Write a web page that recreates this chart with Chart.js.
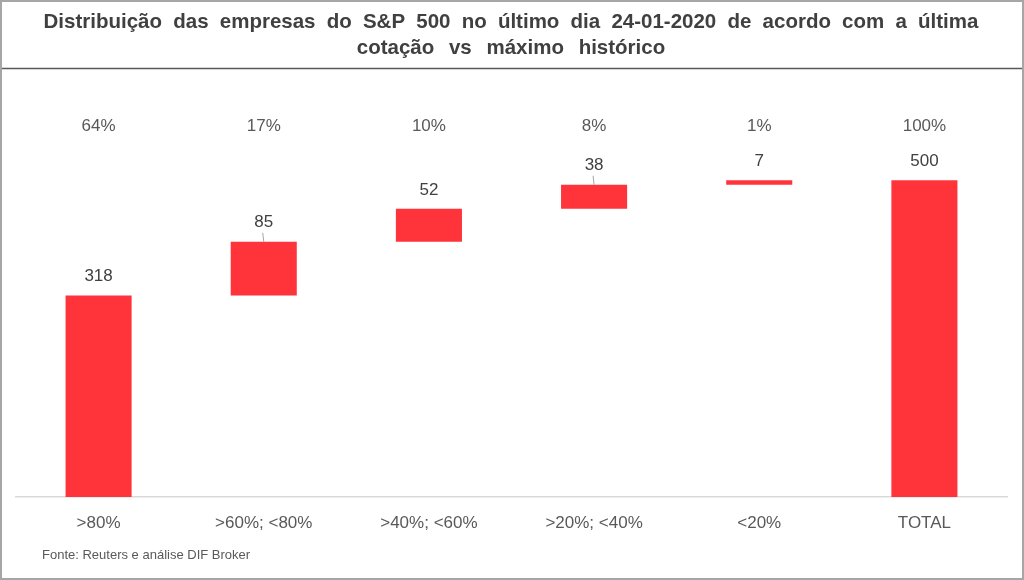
<!DOCTYPE html>
<html>
<head>
<meta charset="utf-8">
<script src="https://cdn.jsdelivr.net/npm/chart.js@4/dist/chart.umd.min.js"></script>
<style>
  html, body { margin: 0; padding: 0; background: #ffffff; }
  #wrap { position: absolute; left: 0; top: 0; width: 1024px; height: 580px; }
  canvas { display: block; }
</style>
</head>
<body>
<div id="wrap"><canvas id="c" width="1024" height="580"></canvas></div>
<script>
// ---- data ----
const categories = ['>80%', '>60%; <80%', '>40%; <60%', '>20%; <40%', '<20%', 'TOTAL'];
const counts = [318, 85, 52, 38, 7, 500];
const shares = ['64%', '17%', '10%', '8%', '1%', '100%'];
const isTotal = [false, false, false, false, false, true];
const hasLeader = [false, true, false, true, false, false];
const titleLines = ['Distribuição das empresas do S&P 500 no último dia 24-01-2020 de acordo com a última', 'cotação vs máximo histórico'];
const sourceText = 'Fonte: Reuters e análise DIF Broker';
const yMax = 600;
const shareLevel = 585;

// build floating ranges for the waterfall
let run = 0;
const ranges = counts.map((v, i) => {
  if (isTotal[i]) return [0, v];
  const r = [run, run + v];
  run += v;
  return r;
});

const FONT = '"Liberation Sans", Arial, sans-serif';

function spacedText(ctx, text, cx, y, extra) {
  const words = text.split(' ');
  const sp = ctx.measureText(' ').width + extra;
  const widths = words.map(w => ctx.measureText(w).width);
  const total = widths.reduce((a, b) => a + b, 0) + sp * (words.length - 1);
  let x = cx - total / 2;
  ctx.textAlign = 'left';
  words.forEach((w, i) => {
    ctx.fillText(w, x, y);
    x += widths[i] + sp;
  });
}

const decor = {
  id: 'decor',
  afterDraw(chart) {
    const ctx = chart.ctx;
    ctx.save();
    // outer frame
    ctx.strokeStyle = '#a6a6a6';
    ctx.lineWidth = 2;
    ctx.strokeRect(1, 1, 1022, 578);
    // title separator
    ctx.strokeStyle = '#595959';
    ctx.lineWidth = 1.5;
    ctx.beginPath();
    ctx.moveTo(2, 68.5);
    ctx.lineTo(1022, 68.5);
    ctx.stroke();
    // title
    ctx.fillStyle = '#404040';
    ctx.font = 'bold 20.5px ' + FONT;
    ctx.textBaseline = 'middle';
    spacedText(ctx, titleLines[0], 511, 22, 5.5);
    spacedText(ctx, titleLines[1], 511, 48, 9);
    // source
    ctx.fillStyle = '#595959';
    ctx.font = '13px ' + FONT;
    ctx.textAlign = 'left';
    ctx.fillText(sourceText, 42, 555);

    // value labels + share labels
    const meta = chart.getDatasetMeta(0);
    const ys = chart.scales.y;
    meta.data.forEach((bar, i) => {
      const top = Math.min(bar.y, bar.base);
      if (hasLeader[i]) {
        ctx.strokeStyle = '#a6a6a6';
        ctx.lineWidth = 1;
        ctx.beginPath();
        ctx.moveTo(bar.x - 1, top - 9);
        ctx.lineTo(bar.x, top);
        ctx.stroke();
      }
      ctx.fillStyle = '#404040';
      ctx.font = '17px ' + FONT;
      ctx.textAlign = 'center';
      ctx.textBaseline = 'middle';
      ctx.fillText(String(counts[i]), bar.x, top - 19);
      ctx.fillStyle = '#595959';
      ctx.fillText(shares[i], bar.x, ys.getPixelForValue(shareLevel));
    });
    ctx.restore();
  }
};

new Chart(document.getElementById('c'), {
  type: 'bar',
  data: {
    labels: categories,
    datasets: [{
      data: ranges,
      backgroundColor: '#ff333a',
      borderWidth: 0,
      barPercentage: 0.4,
      categoryPercentage: 1.0
    }]
  },
  options: {
    responsive: false,
    animation: false,
    layout: { padding: { top: 117, left: 16, right: 17, bottom: 33 } },
    plugins: { legend: { display: false }, tooltip: { enabled: false }, title: { display: false } },
    scales: {
      x: {
        grid: { display: false, drawTicks: false },
        border: { display: true, color: '#d9d9d9', width: 1.5 },
        ticks: { color: '#595959', font: { family: FONT, size: 17 }, padding: 16, maxRotation: 0, autoSkip: false },
        afterFit(scale) { scale.height = 50; }
      },
      y: {
        display: false,
        min: 0,
        max: yMax
      }
    }
  },
  plugins: [decor]
});
</script>
</body>
</html>
